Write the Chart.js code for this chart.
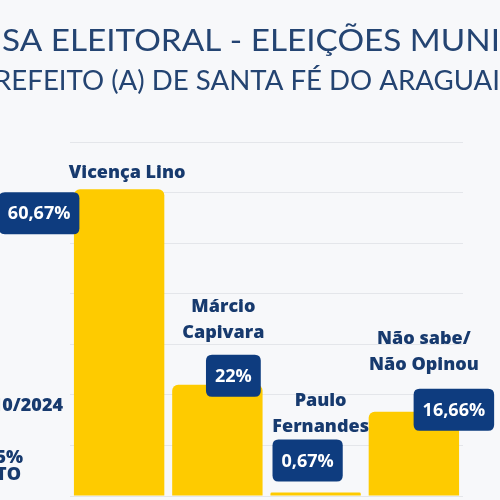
<!DOCTYPE html>
<html>
<head>
<meta charset="utf-8">
<script src="https://cdn.jsdelivr.net/npm/chart.js@4"></script>
<style>
  html, body { margin: 0; padding: 0; background: #f7f8fa; }
  #wrap { width: 500px; height: 500px; }
</style>
</head>
<body>
<div id="wrap"><canvas id="poll" width="500" height="500"></canvas></div>
<script>
const candidates = [["Vicença Lino"], ["Márcio", "Capivara"], ["Paulo", "Fernandes"], ["Não sabe/", "Não Opinou"]];
const percentages = [60.67, 22, 0.67, 16.66];
const titleText = "SA ELEITORAL - ELEIÇÕES MUNI";
const subtitleText = "REFEITO (A) DE SANTA FÉ DO ARAGUAI";
const sideNotes = ["10/2024", "5%", "TO"];

// where each value box and name sits, relative to the top centre of its bar
const boxDx = [-80, 16, -8, 40];
const boxDy = [24, -9, -32, -2];
const nameDx = [8, 6, 5, 10];
const nameDy = [-11, -47, -61, -42];

const NAVY = "#173a6e";
const BOX = "#0e3c7f";
const YELLOW = "#fecb00";

function fmt(v) {
  return String(v).replace(".", ",") + "%";
}

function roundRect(ctx, x, y, w, h, r) {
  ctx.beginPath();
  ctx.moveTo(x + r, y);
  ctx.lineTo(x + w - r, y);
  ctx.quadraticCurveTo(x + w, y, x + w, y + r);
  ctx.lineTo(x + w, y + h - r);
  ctx.quadraticCurveTo(x + w, y + h, x + w - r, y + h);
  ctx.lineTo(x + r, y + h);
  ctx.quadraticCurveTo(x, y + h, x, y + h - r);
  ctx.lineTo(x, y + r);
  ctx.quadraticCurveTo(x, y, x + r, y);
  ctx.closePath();
}

function fitText(ctx, text, left, right, baseline) {
  const w = ctx.measureText(text).width;
  ctx.save();
  ctx.translate(left, baseline);
  ctx.scale((right - left) / w, 1);
  ctx.fillText(text, 0, 0);
  ctx.restore();
}

const decor = {
  id: "decor",
  beforeDraw(chart) {
    const ctx = chart.ctx;
    ctx.save();
    ctx.fillStyle = "#f7f8fa";
    ctx.fillRect(0, 0, chart.width, chart.height);

    ctx.fillStyle = "#244472";
    ctx.textAlign = "left";
    ctx.textBaseline = "alphabetic";
    ctx.font = "400 30px Lato, 'Open Sans', sans-serif";
    fitText(ctx, titleText, 2, 500, 51);
    ctx.font = "400 27px Lato, 'Open Sans', sans-serif";
    fitText(ctx, subtitleText, -6, 500, 90);

    ctx.fillStyle = NAVY;
    ctx.textAlign = "right";
    ctx.font = "800 18px 'Open Sans', sans-serif";
    ctx.fillText(sideNotes[0], 63, 411);
    ctx.fillText(sideNotes[1], 23, 463);
    ctx.fillText(sideNotes[2], 21, 480);
    ctx.restore();
  },
  afterDatasetsDraw(chart) {
    const ctx = chart.ctx;
    const bars = chart.getDatasetMeta(0).data;
    ctx.save();
    bars.forEach((bar, i) => {
      // candidate name
      ctx.fillStyle = NAVY;
      ctx.textAlign = "center";
      ctx.textBaseline = "alphabetic";
      ctx.font = "800 18px 'Open Sans', sans-serif";
      const lines = candidates[i];
      lines.forEach((line, j) => {
        const y = bar.y + nameDy[i] - (lines.length - 1 - j) * 26;
        ctx.fillText(line, bar.x + nameDx[i], y);
      });

      // value box
      const txt = fmt(percentages[i]);
      ctx.font = "bold 18px 'Open Sans', sans-serif";
      const w = ctx.measureText(txt).width + 18;
      const h = 42;
      const cx = bar.x + boxDx[i];
      const cy = bar.y + boxDy[i];
      ctx.fillStyle = BOX;
      roundRect(ctx, cx - w / 2, cy - h / 2, w, h, 6);
      ctx.fill();
      ctx.fillStyle = "#ffffff";
      ctx.textBaseline = "middle";
      ctx.fillText(txt, cx, cy + 1);
    });
    ctx.restore();
  }
};

new Chart(document.getElementById("poll"), {
  type: "bar",
  data: {
    labels: candidates.map((c) => c.join(" ")),
    datasets: [
      {
        data: percentages,
        backgroundColor: YELLOW,
        borderRadius: { topLeft: 6, topRight: 6 },
        borderSkipped: "bottom",
        categoryPercentage: 1,
        barPercentage: 0.92,
      },
    ],
  },
  options: {
    responsive: false,
    animation: false,
    layout: { padding: { left: 70, right: 37, top: 142, bottom: 4 } },
    plugins: { legend: { display: false }, tooltip: { enabled: false }, title: { display: false } },
    scales: {
      x: { display: false },
      y: {
        min: 0,
        max: 70,
        ticks: { display: false, stepSize: 10 },
        border: { display: false },
        grid: { color: "#e4e6ea", drawTicks: false },
      },
    },
  },
  plugins: [decor],
});
</script>
</body>
</html>
